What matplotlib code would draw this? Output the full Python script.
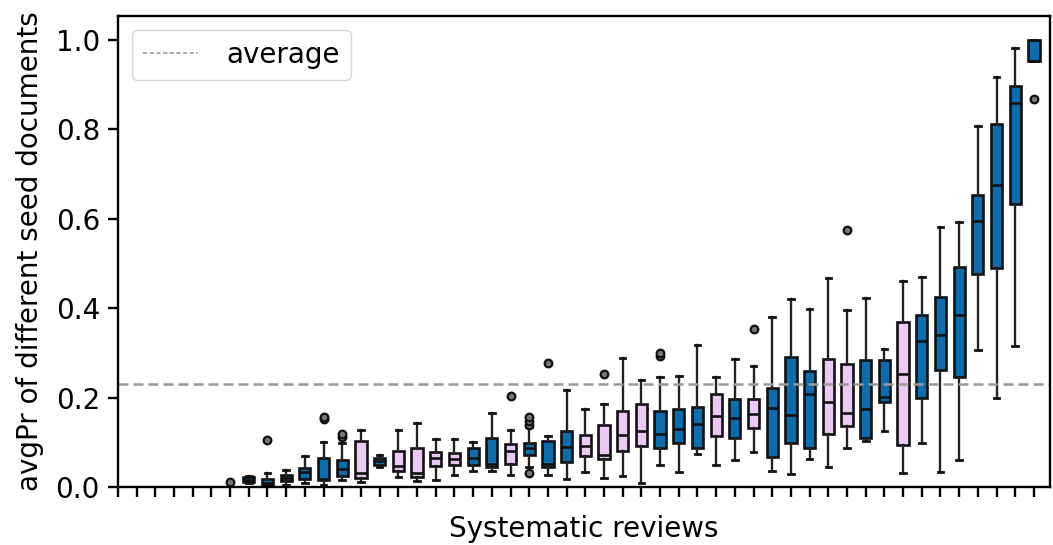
import matplotlib
matplotlib.use("Agg")
import matplotlib.pyplot as plt
from matplotlib.lines import Line2D

# ---- data ----
whislo = [0, 0, 0, 0, 0, 0, 0, 0.010, 0.002, 0.005,
          0.010, 0.005, 0.016, 0.012, 0.045, 0.022, 0.014, 0.017, 0.027, 0.036,
          0.037, 0.027, 0.045, 0.027, 0.018, 0.033, 0.021, 0.025, 0.010, 0.049,
          0.033, 0.074, 0.049, 0.060, 0.079, 0.037, 0.029, 0.064, 0.046, 0.087,
          0.104, 0.126, 0.031, 0.098, 0.033, 0.060, 0.307, 0.199, 0.316, 0.953]
q1 = [0, 0, 0, 0, 0, 0, 0, 0.012, 0.006, 0.013,
      0.019, 0.016, 0.025, 0.020, 0.049, 0.036, 0.022, 0.048, 0.049, 0.049,
      0.045, 0.053, 0.072, 0.045, 0.057, 0.070, 0.064, 0.081, 0.092, 0.088,
      0.100, 0.088, 0.114, 0.109, 0.133, 0.068, 0.099, 0.087, 0.120, 0.137,
      0.109, 0.190, 0.094, 0.200, 0.262, 0.246, 0.476, 0.490, 0.633, 0.953]
medians = [0, 0, 0, 0, 0, 0, 0, 0.017, 0.010, 0.021,
           0.033, 0.018, 0.040, 0.031, 0.058, 0.047, 0.031, 0.066, 0.064, 0.066,
           0.053, 0.081, 0.088, 0.053, 0.089, 0.093, 0.072, 0.116, 0.125, 0.120,
           0.130, 0.141, 0.159, 0.154, 0.163, 0.178, 0.161, 0.208, 0.190, 0.167,
           0.176, 0.202, 0.253, 0.327, 0.340, 0.384, 0.596, 0.675, 0.858, 0.953]
q3 = [0, 0, 0, 0, 0, 0, 0, 0.022, 0.018, 0.027,
      0.044, 0.066, 0.060, 0.104, 0.066, 0.081, 0.087, 0.079, 0.077, 0.088,
      0.110, 0.096, 0.099, 0.103, 0.126, 0.116, 0.139, 0.170, 0.187, 0.170,
      0.176, 0.180, 0.208, 0.197, 0.197, 0.221, 0.292, 0.260, 0.287, 0.275,
      0.284, 0.284, 0.370, 0.385, 0.425, 0.492, 0.654, 0.812, 0.898, 1.000]
whishi = [0, 0, 0, 0, 0, 0, 0, 0.024, 0.032, 0.038,
          0.069, 0.101, 0.100, 0.128, 0.073, 0.128, 0.143, 0.107, 0.107, 0.101,
          0.165, 0.129, 0.134, 0.115, 0.217, 0.174, 0.187, 0.290, 0.240, 0.246,
          0.249, 0.318, 0.247, 0.287, 0.271, 0.381, 0.420, 0.398, 0.468, 0.396,
          0.423, 0.309, 0.462, 0.471, 0.582, 0.592, 0.808, 0.918, 0.981, 1.000]
fliers = {6: [0.011], 8: [0.105], 11: [0.153, 0.158], 12: [0.113, 0.118],
          21: [0.204], 22: [0.140, 0.148, 0.157, 0.032], 23: [0.277],
          26: [0.253], 29: [0.293, 0.300], 34: [0.353], 39: [0.574], 49: [0.869]}
pink_reviews = [13, 15, 16, 17, 18, 21, 25, 26, 27, 28, 32, 34, 38, 39, 42]
average = 0.23

BLUE = "#0a6eae"
PINK = "#ebc9f5"

fig = plt.figure(figsize=(10.53, 5.45), dpi=100)
ax = fig.add_axes([0.112, 0.106, 0.885, 0.865])

stats = []
for i in range(len(medians)):
    stats.append(dict(med=medians[i], q1=q1[i], q3=q3[i],
                      whislo=whislo[i], whishi=whishi[i],
                      fliers=fliers.get(i, [])))
positions = list(range(len(medians)))

bp = ax.bxp(stats, positions=positions, widths=0.6, patch_artist=True,
            boxprops=dict(linewidth=1.9, edgecolor="#111111"),
            medianprops=dict(color="#111111", linewidth=1.9),
            whiskerprops=dict(color="#222222", linewidth=1.7),
            capprops=dict(color="#111111", linewidth=2.0),
            flierprops=dict(marker="o", markersize=5.5, markerfacecolor="#777777",
                            markeredgecolor="#111111", markeredgewidth=1.6))
for i, box in enumerate(bp["boxes"]):
    box.set_facecolor(PINK if i in pink_reviews else BLUE)

ax.axhline(average, color="#9a9a9a", linestyle="--", linewidth=1.8, dashes=(4, 2))

ax.set_xlim(0, 49.85)
ax.set_ylim(0, 1.054)
ax.set_xticks(positions)
ax.set_xticklabels([])
ax.set_yticks([0.0, 0.2, 0.4, 0.6, 0.8, 1.0])
ax.set_yticklabels(["0.0", "0.2", "0.4", "0.6", "0.8", "1.0"])
ax.tick_params(axis="both", length=7, width=1.7, labelsize=20, pad=6)
for s in ax.spines.values():
    s.set_linewidth(1.7)

ax.set_xlabel("Systematic reviews", fontsize=20)
ax.xaxis.set_label_coords(0.5, -0.058, transform=ax.transAxes)
ax.xaxis.label.set_va("top")
ax.set_ylabel("avgPr of different seed documents", fontsize=20, labelpad=8)

handle = Line2D([], [], color="#9a9a9a", linestyle="--", linewidth=1.2, dashes=(2.5, 1.5))
ax.legend([handle], ["average"], loc="upper left", fontsize=20, handlelength=2.0,
          borderpad=0.4, handletextpad=1.0, borderaxespad=0.5)

fig.savefig("out.png", dpi=100)
